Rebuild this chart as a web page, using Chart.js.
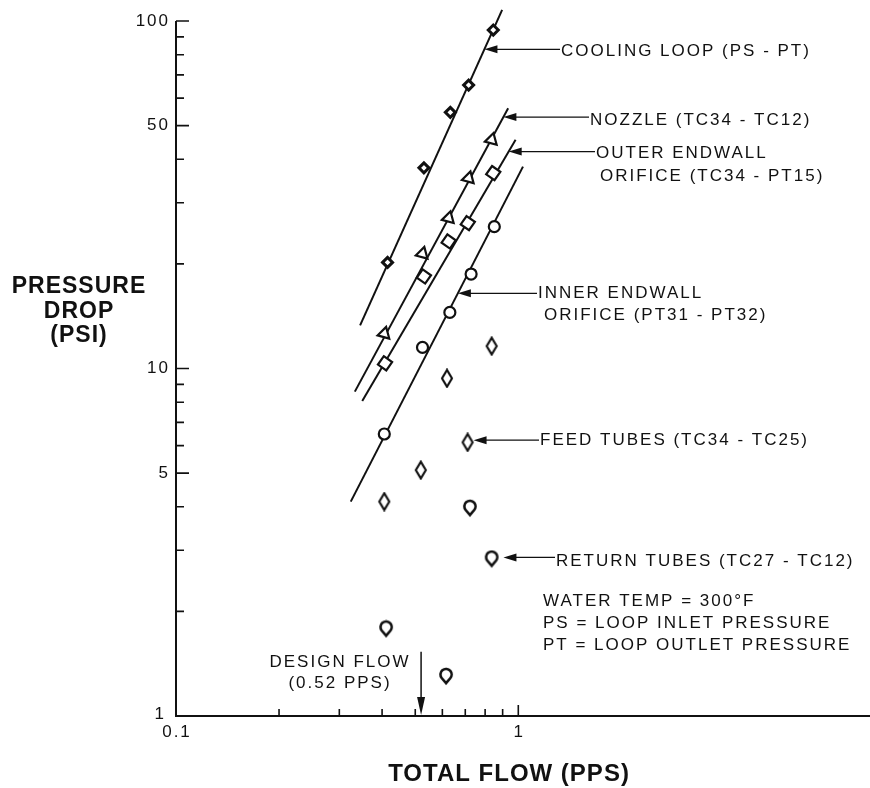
<!DOCTYPE html>
<html>
<head>
<meta charset="utf-8">
<script src="https://cdn.jsdelivr.net/npm/chart.js@4.4.1/dist/chart.umd.min.js"></script>
<style>
  html, body { margin: 0; padding: 0; background: #fff; }
  #wrap { width: 870px; height: 788px; }
</style>
</head>
<body>
<div id="wrap"><canvas id="c" width="870" height="788"></canvas></div>
<script>
// ---- measured flow (PPS) and pressure drop (PSI) ----
const coolingFlow = [0.415, 0.530, 0.633, 0.716, 0.845];
const coolingDrop = [20.2, 37.8, 54.6, 65.4, 94.2];

const nozzleFlow = [0.406, 0.525, 0.626, 0.716, 0.836];
const nozzleDrop = [12.6, 21.4, 27.1, 35.3, 45.5];

const outerFlow = [0.408, 0.530, 0.626, 0.712, 0.845];
const outerDrop = [10.35, 18.4, 23.2, 26.2, 36.5];

const innerFlow = [0.406, 0.525, 0.631, 0.728, 0.851];
const innerDrop = [6.48, 11.5, 14.5, 18.7, 25.6];

const feedFlow = [0.406, 0.519, 0.619, 0.711, 0.836];
const feedDrop = [4.14, 5.10, 9.37, 6.13, 11.6];

const returnFlow = [0.411, 0.615, 0.722, 0.836];
const returnDrop = [1.78, 1.30, 3.96, 2.83];

// ---- straight-line fits (end points, log-log) ----
const coolingFitFlow = [0.345, 0.897];
const coolingFitDrop = [13.3, 107.6];
const nozzleFitFlow = [0.333, 0.934];
const nozzleFitDrop = [8.58, 56.1];
const outerFitFlow = [0.350, 0.982];
const outerFitDrop = [8.06, 45.5];
const innerFitFlow = [0.324, 1.032];
const innerFitDrop = [4.14, 38.1];

// ---- axis ticks ----
const xRange = [0.1, 10];
const yRange = [1, 100];
const xLabelTicks = [0.1, 1];
const xMinorTicks = [0.2, 0.3, 0.4, 0.5, 0.6, 0.7, 0.8, 0.9];
const yLabelTicks = [100, 50, 10, 5, 1];
const yMinorTicks = [90, 80, 70, 60, 40, 30, 20, 9, 8, 7, 6, 4, 3, 2];

const designFlow = 0.52;

const FONT = '"Liberation Sans", Arial, Helvetica, sans-serif';
const INK = '#111';

const pts = (xs, ys) => xs.map((x, i) => ({ x, y: ys[i] }));

// custom marker: narrow rhombus
function rhombusMarker() {
  const c = document.createElement('canvas');
  c.width = 14; c.height = 20;
  const g = c.getContext('2d');
  g.lineWidth = 2.1; g.strokeStyle = INK; g.fillStyle = '#fff';
  g.beginPath();
  g.moveTo(7, 1.6); g.lineTo(12, 10); g.lineTo(7, 18.4); g.lineTo(2, 10); g.closePath();
  g.fill(); g.stroke();
  return c;
}
// custom marker: ring with a point underneath
function pinMarker() {
  const c = document.createElement('canvas');
  c.width = 18; c.height = 19;
  const g = c.getContext('2d');
  const cx = 9, cy = 7.6, r = 5.6, tipY = 16.2;
  const d = tipY - cy;
  const a = Math.acos(r / d);
  g.lineWidth = 2.6; g.strokeStyle = INK; g.fillStyle = '#fff'; g.lineJoin = 'miter';
  g.beginPath();
  g.moveTo(cx, tipY);
  g.lineTo(cx + r * Math.cos(Math.PI / 2 + a), cy + r * Math.sin(Math.PI / 2 + a));
  g.arc(cx, cy, r, Math.PI / 2 + a, Math.PI / 2 - a + 2 * Math.PI, false);
  g.closePath();
  g.fill(); g.stroke();
  return c;
}

function logInterp(fx, fy, yv) {
  const t = (Math.log10(yv) - Math.log10(fy[0])) / (Math.log10(fy[1]) - Math.log10(fy[0]));
  return Math.pow(10, Math.log10(fx[0]) + t * (Math.log10(fx[1]) - Math.log10(fx[0])));
}

// callout labels: arrow tip in data space, text rows in canvas pixels
const callouts = [
  { tip: [logInterp(coolingFitFlow, coolingFitDrop, 82.9), 82.9], textX: 561, rows: [['COOLING LOOP (PS - PT)', 0, 51.5]] },
  { tip: [logInterp(nozzleFitFlow, nozzleFitDrop, 52.9), 52.9], textX: 590, rows: [['NOZZLE (TC34 - TC12)', 0, 120]] },
  { tip: [logInterp(outerFitFlow, outerFitDrop, 42.1), 42.1], textX: 596, rows: [['OUTER ENDWALL', 0, 153.5], ['ORIFICE (TC34 - PT15)', 4, 176]] },
  { tip: [logInterp(innerFitFlow, innerFitDrop, 16.46), 16.46], textX: 538, rows: [['INNER ENDWALL', 0, 293.5], ['ORIFICE (PT31 - PT32)', 6, 315.5]] },
  { tip: [0.74, 6.22], textX: 540, rows: [['FEED TUBES (TC34 - TC25)', 0, 440]] },
  { tip: [0.905, 2.86], textX: 556, rows: [['RETURN TUBES (TC27 - TC12)', 0, 561]] }
];
const notes = [
  ['WATER TEMP = 300°F', 543, 601.5],
  ['PS = LOOP INLET PRESSURE', 543, 623.5],
  ['PT = LOOP OUTLET PRESSURE', 543, 645.5]
];

function text(ctx, s, x, y, font, align, spacing) {
  ctx.font = font;
  ctx.letterSpacing = spacing || '0px';
  ctx.textAlign = align || 'left';
  ctx.textBaseline = 'middle';
  ctx.fillStyle = INK;
  ctx.fillText(s, x, y);
  ctx.letterSpacing = '0px';
}

function arrowHead(ctx, x, y, dx, dy, len, half) {
  // tip at (x,y), pointing along (dx,dy)
  const bx = x - dx * len, by = y - dy * len;
  ctx.beginPath();
  ctx.moveTo(x, y);
  ctx.lineTo(bx - dy * half, by + dx * half);
  ctx.lineTo(bx + dy * half, by - dx * half);
  ctx.closePath();
  ctx.fill();
}

const frame = {
  id: 'frame',
  beforeDatasetsDraw(chart) {
    const { ctx, chartArea: a, scales: { x, y } } = chart;
    ctx.save();
    ctx.strokeStyle = INK; ctx.fillStyle = INK;
    ctx.lineWidth = 2;
    ctx.beginPath();
    ctx.moveTo(a.left, a.top);
    ctx.lineTo(a.left, a.bottom);
    ctx.lineTo(870, a.bottom);
    ctx.stroke();

    ctx.lineWidth = 1.6;
    ctx.beginPath();
    yLabelTicks.forEach(v => { const p = y.getPixelForValue(v); if (v !== yRange[0]) { ctx.moveTo(a.left, p); ctx.lineTo(a.left + 13, p); } });
    yMinorTicks.forEach(v => { const p = y.getPixelForValue(v); ctx.moveTo(a.left, p); ctx.lineTo(a.left + 8, p); });
    xLabelTicks.forEach(v => { const p = x.getPixelForValue(v); if (v !== xRange[0]) { ctx.moveTo(p, a.bottom); ctx.lineTo(p, a.bottom - 11); } });
    xMinorTicks.forEach(v => { const p = x.getPixelForValue(v); ctx.moveTo(p, a.bottom); ctx.lineTo(p, a.bottom - 7); });
    ctx.stroke();

    const tickFont = '17px ' + FONT;
    yLabelTicks.forEach(v => {
      const p = y.getPixelForValue(v);
      if (v === yRange[0]) text(ctx, String(v), a.left - 10, p - 2, tickFont, 'right', '2px');
      else text(ctx, String(v), a.left - 6, p, tickFont, 'right', '2px');
    });
    xLabelTicks.forEach(v => {
      text(ctx, String(v), x.getPixelForValue(v) + 1, a.bottom + 16, tickFont, 'center', '2px');
    });

    // axis titles
    const titleFont = 'bold 23px ' + FONT;
    text(ctx, 'PRESSURE', 79, 287, titleFont, 'center', '1px');
    text(ctx, 'DROP', 79, 311.5, titleFont, 'center', '1px');
    text(ctx, '(PSI)', 79, 336, titleFont, 'center', '1px');
    text(ctx, 'TOTAL FLOW (PPS)', 509, 774, 'bold 24px ' + FONT, 'center', '1px');
    ctx.restore();
  },
  afterDatasetsDraw(chart) {
    const { ctx, scales: { x, y }, chartArea: a } = chart;
    ctx.save();
    ctx.strokeStyle = INK; ctx.fillStyle = INK;
    const lblFont = '17px ' + FONT;

    callouts.forEach(c => {
      const tx = x.getPixelForValue(c.tip[0]);
      const ty = y.getPixelForValue(c.tip[1]);
      ctx.lineWidth = 1.2;
      ctx.beginPath();
      ctx.moveTo(tx + 8, ty);
      ctx.lineTo(c.textX - 1, ty);
      ctx.stroke();
      arrowHead(ctx, tx, ty, -1, 0, 13, 4);
      c.rows.forEach(r => text(ctx, r[0], c.textX + r[1], r[2], lblFont, 'left', '2px'));
    });
    notes.forEach(n => text(ctx, n[0], n[1], n[2], lblFont, 'left', '2px'));

    // design flow marker
    const dx = x.getPixelForValue(designFlow);
    const topY = y.getPixelForValue(1.53);
    ctx.lineWidth = 1.5;
    ctx.beginPath();
    ctx.moveTo(dx, topY);
    ctx.lineTo(dx, a.bottom - 10);
    ctx.stroke();
    arrowHead(ctx, dx, a.bottom - 1, 0, 1, 18, 4);
    text(ctx, 'DESIGN FLOW', 340, 662, lblFont, 'center', '2px');
    text(ctx, '(0.52 PPS)', 340, 683.5, lblFont, 'center', '2px');
    ctx.restore();
  }
};

const fitStyle = { showLine: true, borderColor: INK, borderWidth: 2, pointRadius: 0, clip: false, order: 2 };
const markStyle = { showLine: false, borderColor: INK, backgroundColor: '#fff', pointBorderColor: INK, pointBackgroundColor: '#fff', order: 1 };

new Chart(document.getElementById('c'), {
  type: 'line',
  data: {
    datasets: [
      { label: 'Cooling loop fit', data: pts(coolingFitFlow, coolingFitDrop), ...fitStyle },
      { label: 'Nozzle fit', data: pts(nozzleFitFlow, nozzleFitDrop), ...fitStyle },
      { label: 'Outer endwall fit', data: pts(outerFitFlow, outerFitDrop), ...fitStyle },
      { label: 'Inner endwall fit', data: pts(innerFitFlow, innerFitDrop), ...fitStyle },
      { label: 'Cooling loop (PS - PT)', data: pts(coolingFlow, coolingDrop), ...markStyle,
        pointStyle: 'rectRot', pointRadius: 5, pointBorderWidth: 3 },
      { label: 'Nozzle (TC34 - TC12)', data: pts(nozzleFlow, nozzleDrop), ...markStyle,
        pointStyle: 'triangle', pointRotation: 255, pointRadius: 7, pointBorderWidth: 2.2 },
      { label: 'Outer endwall orifice (TC34 - PT15)', data: pts(outerFlow, outerDrop), ...markStyle,
        pointStyle: 'rect', pointRotation: 35, pointRadius: 7.2, pointBorderWidth: 2.2 },
      { label: 'Inner endwall orifice (PT31 - PT32)', data: pts(innerFlow, innerDrop), ...markStyle,
        pointStyle: 'circle', pointRadius: 5.5, pointBorderWidth: 2.2 },
      { label: 'Feed tubes (TC34 - TC25)', data: pts(feedFlow, feedDrop), ...markStyle,
        pointStyle: rhombusMarker(), pointRadius: 8 },
      { label: 'Return tubes (TC27 - TC12)', data: pts(returnFlow, returnDrop), ...markStyle,
        pointStyle: pinMarker(), pointRadius: 8 }
    ]
  },
  options: {
    responsive: false,
    animation: false,
    devicePixelRatio: 1,
    layout: { padding: { left: 176, right: 4, top: 21, bottom: 72 } },
    plugins: { legend: { display: false }, tooltip: { enabled: false } },
    scales: {
      x: { type: 'logarithmic', min: xRange[0], max: xRange[1], display: false },
      y: { type: 'logarithmic', min: yRange[0], max: yRange[1], display: false }
    }
  },
  plugins: [frame]
});
</script>
</body>
</html>
